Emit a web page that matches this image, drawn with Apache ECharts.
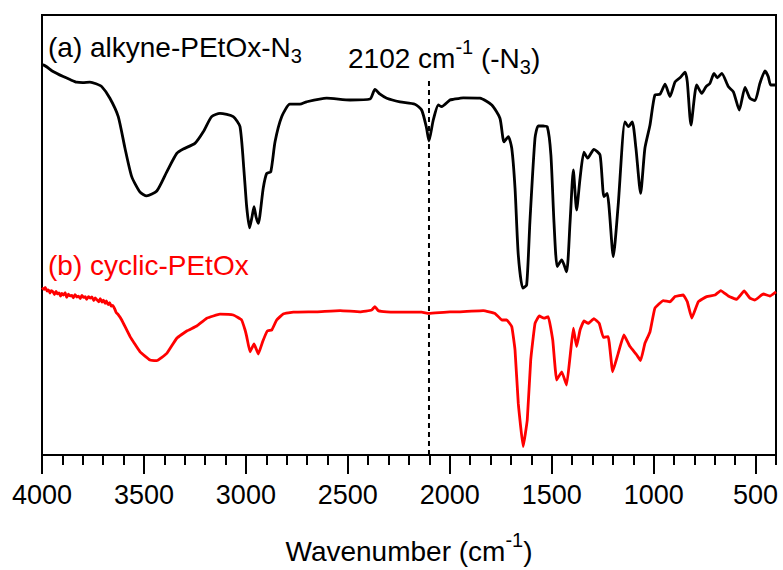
<!DOCTYPE html>
<html>
<head>
<meta charset="utf-8">
<script src="https://cdn.jsdelivr.net/npm/echarts@6/dist/echarts.min.js"></script>
<style>
html,body{margin:0;padding:0;background:#fff;}
#chart{width:783px;height:570px;}
</style>
</head>
<body>
<div id="chart"></div>
<script>
// Wavenumber (cm-1) ticks
var xTicks = [4000, 3500, 3000, 2500, 2000, 1500, 1000, 500];
var azidePeak = 2102;

// (a) alkyne-PEtOx-N3 : [wavenumber, transmittance (a.u.)]
var alkyneData = [
  [4000,97.5],[3994,97.5],[3950,96.0],[3896,94.6],[3860,93.8],[3830,93.2],[3800,93.1],[3765,93.2],[3735,92.8],[3707,92.1],
  [3667,89.2],[3626,84.6],[3593,76.7],[3560,69.6],[3519,65.7],[3487,64.8],[3437,66.0],[3388,70.8],[3339,75.4],
  [3307,76.5],[3250,77.9],[3209,80.8],[3168,84.6],[3127,85.4],[3062,84.6],[3029,82.1],[3009,70.8],[2996,62.0],
  [2982,56.8],[2970,59.5],[2960,62.1],[2950,59.5],[2939,57.9],[2915,66.7],[2898,70.4],[2878,70.8],[2857,78.3],
  [2824,84.6],[2784,87.7],[2735,87.7],[2702,88.3],[2604,89.2],[2489,88.75],[2391,89.0],[2367,91.4],[2342,90.2],
  [2309,89.2],[2244,88.3],[2171,87.7],[2138,86.25],[2115,82.0],[2102,78.5],[2081,83.75],[2056,87.5],[2040,87.1],
  [1999,88.75],[1983,88.9],[1934,89.3],[1852,89.2],[1794,87.5],[1754,84.2],[1734,78.3],[1713,79.6],[1696,76.7],
  [1680,66.7],[1664,50.0],[1642,41.7],[1623,42.5],[1607,58.3],[1582,79.2],[1566,82.3],[1541,82.25],[1522,82.1],
  [1504,75.0],[1489,58.3],[1473,47.1],[1451,48.75],[1427,45.8],[1410,58.3],[1394,71.25],[1378,61.25],[1361,69.2],
  [1342,75.7],[1324,74.2],[1293,76.4],[1263,75.0],[1244,64.6],[1228,65.4],[1198,49.6],[1174,62.5],[1141,83.3],
  [1124,82.1],[1105,83.3],[1087,76.7],[1064,65.4],[1043,76.7],[1018,82.5],[994,90.0],[969,90.2],[944,92.7],
  [920,89.6],[895,93.3],[871,94.3],[846,95.7],[835,93.3],[817,82.5],[789,92.5],[764,90.4],[743,92.1],[724,92.9],
  [704,95.4],[688,94.3],[666,95.4],[634,92.1],[609,90.8],[580,86.25],[552,91.9],[528,89.2],[503,88.6],[479,92.9],
  [454,96.0],[438,94.6],[426,92.5],[405,92.5],[400,92.5]
];

// (b) cyclic-PEtOx : [wavenumber, transmittance (a.u.)]
var cyclicData = [
  [4000,41.8],[3990,41.4],[3984,41.9],[3975,41.0],[3968,41.3],[3961,40.5],[3955,41.1],[3946,40.8],[3939,40.1],
  [3931,40.9],[3925,40.3],[3916,40.5],[3909,39.7],[3903,40.4],[3894,40.0],[3886,40.6],[3879,39.4],[3871,40.2],
  [3862,39.8],[3853,39.9],[3846,39.3],[3838,40.1],[3829,39.5],[3821,39.7],[3812,39.1],[3805,39.9],[3796,39.4],
  [3788,39.6],[3781,38.9],[3772,39.6],[3763,39.2],[3755,39.5],[3746,38.6],[3739,39.3],[3731,38.8],[3722,38.3],
  [3714,39.1],[3706,38.2],[3699,38.7],[3690,37.9],[3684,38.5],[3676,37.6],[3668,38.1],[3661,37.2],[3653,37.4],
  [3644,36.6],[3636,35.6],[3628,35.2],
  [3609,33.75],[3568,29.6],[3519,25.8],[3470,23.75],[3437,23.6],[3388,25.4],[3339,29.2],[3290,31.0],[3241,32.25],
  [3192,34.2],[3127,35.2],[3062,35.0],[3021,33.75],[3004,31.25],[2996,29.6],[2980,25.8],[2960,27.75],[2939,25.25],
  [2918,28.3],[2895,31.0],[2873,31.25],[2849,33.75],[2817,35.25],[2767,35.7],[2653,35.8],[2538,36.1],[2440,35.8],
  [2383,36.25],[2367,37.1],[2351,36.1],[2309,35.8],[2211,35.7],[2138,35.7],[2102,35.4],[1999,35.8],[1950,35.8],
  [1836,36.1],[1778,35.4],[1745,33.75],[1721,33.75],[1696,32.1],[1680,26.25],[1664,12.9],[1640,2.1],[1620,8.75],
  [1603,23.75],[1582,32.9],[1561,34.75],[1538,34.2],[1517,34.6],[1495,28.75],[1476,18.75],[1451,20.8],[1427,17.5],
  [1410,24.6],[1394,31.7],[1378,27.1],[1361,31.25],[1342,33.5],[1321,32.9],[1293,34.1],[1267,32.9],[1247,29.4],
  [1223,29.6],[1201,20.8],[1174,25.4],[1146,30.0],[1116,27.1],[1083,25.0],[1064,23.6],[1043,27.9],[1018,30.8],
  [994,36.7],[953,38.6],[920,38.3],[895,39.6],[855,40.0],[835,38.3],[813,34.2],[781,38.3],[740,39.6],[699,40.0],
  [671,41.1],[634,39.75],[593,38.9],[556,41.0],[528,39.2],[503,38.75],[462,40.25],[430,39.75],[400,40.8]
];

// dotted guide at the azide band
var azideLine = [[azidePeak, 0], [azidePeak, 94]];

var FONT = '"Liberation Sans", Arial, sans-serif';
var measureCtx = document.createElement('canvas').getContext('2d');

// builds a line of text pieces (for sub/superscripts); each piece is real text
function textLine(x, y, parts, color, center) {
  var widths = parts.map(function (p) {
    measureCtx.font = p.size + 'px ' + FONT;
    return measureCtx.measureText(p.t).width;
  });
  var total = widths.reduce(function (a, b) { return a + b; }, 0);
  var cx = center ? x - total / 2 : x;
  var els = [];
  parts.forEach(function (p, i) {
    els.push({
      type: 'text', x: cx, y: y + (p.dy || 0), z: 10,
      style: {text: p.t, font: p.size + 'px ' + FONT, fill: color, align: 'left', verticalAlign: 'middle'}
    });
    cx += widths[i];
  });
  return els;
}

var graphics = [].concat(
  textLine(48, 47, [{t: '(a) alkyne-PEtOx-N', size: 28}, {t: '3', size: 20, dy: 9}], '#000'),
  textLine(348, 58, [{t: '2102 cm', size: 28}, {t: '-1', size: 20, dy: -11}, {t: ' (-N', size: 28}, {t: '3', size: 20, dy: 9}, {t: ')', size: 28}], '#000'),
  textLine(48, 265, [{t: '(b) cyclic-PEtOx', size: 28}], '#ff0000'),
  textLine(409, 551, [{t: 'Wavenumber (cm', size: 28}, {t: '-1', size: 20, dy: -11}, {t: ')', size: 28}], '#000', true)
);

var chart = echarts.init(document.getElementById('chart'), null, {renderer: 'svg'});

var option = {
  animation: false,
  backgroundColor: '#fff',
  grid: {
    left: 42, right: 7, top: 15, bottom: 115,
    show: true, borderColor: '#000', borderWidth: 2,
    containLabel: false, outerBoundsMode: 'none'
  },
  xAxis: [
    {
      type: 'value', min: 400, max: 4000, interval: 100, inverse: true,
      axisLine: {show: true, onZero: false, lineStyle: {color: '#000', width: 2}},
      axisTick: {show: true, inside: false, length: 10, lineStyle: {color: '#000', width: 2}},
      axisLabel: {
        show: true, margin: 26, color: '#000', fontSize: 27, fontFamily: FONT,
        formatter: function (v) { return xTicks.indexOf(v) >= 0 ? String(v) : ''; }
      },
      splitLine: {show: false}
    },
    {
      type: 'value', min: 400, max: 4000, inverse: true, position: 'bottom',
      axisLine: {show: false},
      axisTick: {show: true, inside: false, length: 19, customValues: xTicks, lineStyle: {color: '#000', width: 2}},
      axisLabel: {show: false},
      splitLine: {show: false}
    }
  ],
  yAxis: {
    type: 'value', min: 0, max: 110,
    axisLine: {show: true, lineStyle: {color: '#000', width: 2}},
    axisTick: {show: false}, axisLabel: {show: false}, splitLine: {show: false}
  },
  series: [
    {
      name: 'azide', type: 'line', data: azideLine, showSymbol: false, silent: true,
      lineStyle: {color: '#000', width: 2, type: [5, 4]}, z: 1
    },
    {
      name: '(a) alkyne-PEtOx-N3', type: 'line', data: alkyneData, showSymbol: false,
      smooth: 0.2, lineStyle: {color: '#000', width: 2.8}, z: 3
    },
    {
      name: '(b) cyclic-PEtOx', type: 'line', data: cyclicData, showSymbol: false,
      smooth: 0.1, lineStyle: {color: '#ff0000', width: 2.8}, z: 2
    }
  ],
  graphic: graphics
};
chart.setOption(option);
</script>
</body>
</html>
